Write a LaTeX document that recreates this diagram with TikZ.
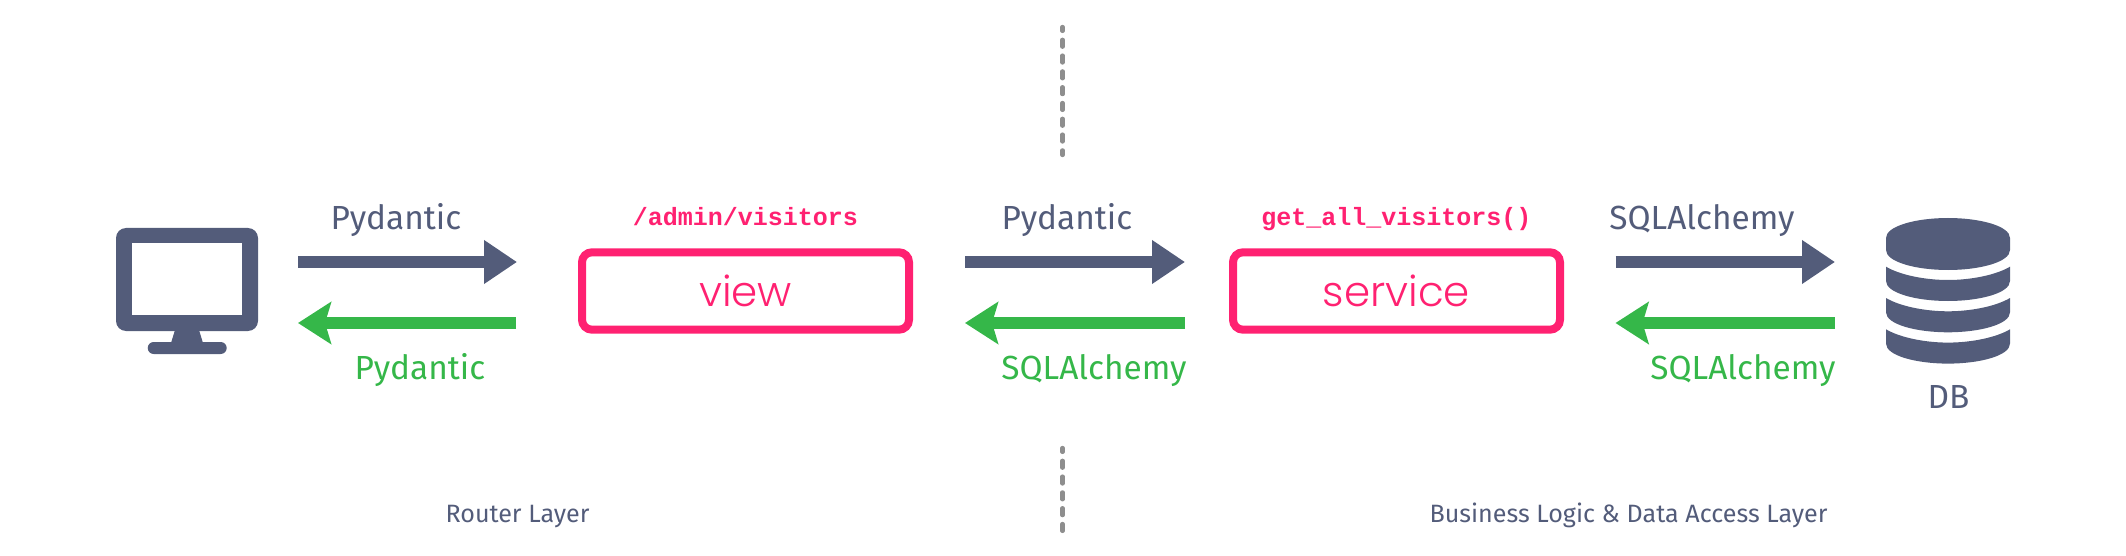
\documentclass[tikz,border=0pt]{standalone}
\usepackage{fontspec}
\setmainfont{Fira Sans}
\setmonofont{Liberation Mono}
\newfontfamily\boxfont{Poppins Light}
\usetikzlibrary{arrows.meta, positioning}
\definecolor{slatenavy}{RGB}{83, 92, 122}
\definecolor{flowgreen}{RGB}{53, 183, 73}
\definecolor{hotpink}{RGB}{255, 33, 113}
\definecolor{dashgray}{RGB}{142, 142, 142}

\begin{document}
\begin{tikzpicture}[
    x=1pt, y=-1pt,
    iconbox/.style={rectangle, inner sep=0pt, outer sep=0pt},
    layerbox/.style={rectangle, draw=hotpink, line width=8pt, rounded corners=10pt, inner sep=0pt,
                minimum width=327pt, minimum height=77.4pt, text=hotpink,
                font=\boxfont\fontsize{42}{46}\selectfont},
    flowlabel/.style={anchor=base, inner sep=0pt, font=\fontsize{33.4}{38}\selectfont},
    codelabel/.style={anchor=base, inner sep=0pt, text=hotpink, font=\ttfamily\bfseries\fontsize{25}{28}\selectfont},
    layerlabel/.style={anchor=base, inner sep=0pt, text=slatenavy, font=\fontsize{25.1}{28}\selectfont},
    toarrow/.style={-{Triangle[length=33pt, width=41.7pt]}, line width=12.6pt, slatenavy},
    backarrow/.style={-{Stealth[length=33pt, width=41.7pt, inset=6pt]}, line width=12.6pt, flowgreen},
    divider/.style={dashgray, line width=4.3pt, line cap=round, dash pattern=on 6.9pt off 8.9pt, dash phase=3pt}
]
    \useasboundingbox (0,0) rectangle (2126,556);

    % Main row
    \node[iconbox, minimum width=142pt, minimum height=126pt] (pc) at (187,291) {};
    \node[layerbox, right=320pt of pc] (view) {view};
    \node[layerbox, right=316pt of view] (service) {service};
    \node[iconbox, minimum width=124pt, minimum height=145pt, right=321pt of service] (db) {};

    % Monitor icon
    \fill[slatenavy, rounded corners=10pt] (116,228) rectangle (258,331);
    \fill[white] (131.7,243.3) rectangle (242.3,314.7);
    \fill[slatenavy] (175,330) -- (199,330) -- (203,343) -- (171,343) -- cycle;
    \fill[slatenavy, rounded corners=6pt] (147.7,342) rectangle (226.7,354);

    % Database icon
    \fill[slatenavy] (1886,238) .. controls (1886,226) and (1916,218) .. (1948,218)
        .. controls (1980,218) and (2010,226) .. (2010,238) -- (2010,250)
        .. controls (2010,262) and (1980,270) .. (1948,270)
        .. controls (1916,270) and (1886,262) .. (1886,250) -- cycle;
    \foreach \ytop in {0,31.3,62.6} {
        \fill[slatenavy] (1886,266.7+\ytop) .. controls (1900,275+\ytop) and (1925,280+\ytop) .. (1948,280+\ytop)
            .. controls (1971,280+\ytop) and (1996,275+\ytop) .. (2010,266.7+\ytop) -- (2010,281+\ytop)
            .. controls (2010,293+\ytop) and (1980,301+\ytop) .. (1948,301+\ytop)
            .. controls (1916,301+\ytop) and (1886,293+\ytop) .. (1886,281+\ytop) -- cycle;
    }

    % Flows
    \draw[toarrow, shorten <=40pt, shorten >=61pt] ([yshift=29pt]pc.east) -- ([yshift=29pt]view.west);
    \draw[backarrow, shorten <=62pt, shorten >=40pt] ([yshift=-32pt]view.west) -- ([yshift=-32pt]pc.east);
    \draw[toarrow, shorten <=52pt, shorten >=44pt] ([yshift=29pt]view.east) -- ([yshift=29pt]service.west);
    \draw[backarrow, shorten <=44pt, shorten >=52pt] ([yshift=-32pt]service.west) -- ([yshift=-32pt]view.east);
    \draw[toarrow, shorten <=51.5pt, shorten >=50pt] ([yshift=29pt]service.east) -- ([yshift=29pt]db.west);
    \draw[backarrow, shorten <=50pt, shorten >=51.5pt] ([yshift=-32pt]db.west) -- ([yshift=-32pt]service.east);

    % Flow labels
    \node[flowlabel, text=slatenavy] (sendone) at (396,230) {Pydantic};
    \node[flowlabel, text=flowgreen] (backone) at (420,379) {Pydantic};
    \node[flowlabel, text=slatenavy] (sendtwo) at (1067,230) {Pydantic};
    \node[flowlabel, text=flowgreen] (backtwo) at (1094,379) {SQLAlchemy};
    \node[flowlabel, text=slatenavy] (sendthree) at (1702,230) {SQLAlchemy};
    \node[flowlabel, text=flowgreen] (backthree) at (1743,379) {SQLAlchemy};
    \node[flowlabel, text=slatenavy] (dbname) at (1948.5,408) {DB};

    % Code names
    \node[codelabel] (viewcode) at ([yshift=23pt]view.north) {/admin/visitors};
    \node[codelabel] (servicecode) at ([yshift=23pt]service.north) {get\_all\_visitors()};

    % Layer split
    \coordinate (splittop) at (1062.5,27);
    \coordinate (splittopend) at (1062.5,155);
    \coordinate (splitbottom) at (1062.5,448);
    \coordinate (splitbottomend) at (1062.5,536);
    \draw[divider] (splittop) -- (splittopend);
    \draw[divider] (splitbottom) -- (splitbottomend);

    \node[layerlabel] (routerlayer) at (517.5,522.7) {Router Layer};
    \node[layerlabel] (businesslayer) at (1628.5,522.7) {Business Logic \& Data Access Layer};
\end{tikzpicture}
\end{document}
